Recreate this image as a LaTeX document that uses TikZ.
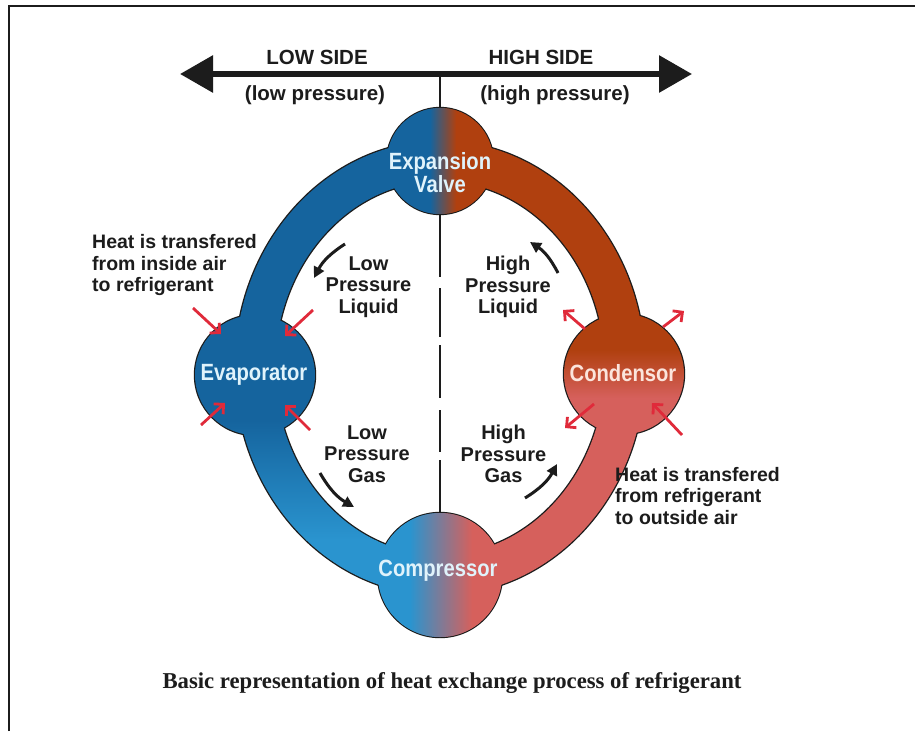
\documentclass[tikz,border=0pt]{standalone}
\usepackage{fontspec}
\setmainfont{Liberation Sans}
\newfontfamily\partfont{Liberation Sans}[FakeStretch=0.86]
\newfontfamily\captionfont{Liberation Serif}
\usetikzlibrary{arrows.meta}

\definecolor{bluedark}{HTML}{15649E}
\definecolor{bluelight}{HTML}{2A94CF}
\definecolor{brownred}{HTML}{B0400F}
\definecolor{salmon}{HTML}{D6605C}
\definecolor{heatred}{HTML}{E02A3A}
\definecolor{ink}{HTML}{1C1C1C}
\definecolor{coolwhite}{HTML}{E0F3FB}
\definecolor{warmwhite}{HTML}{FBE4DC}

% colour bands of the low side (left) and high side (right)
\newcommand\paintlow{%
  \fill[bluedark] (0,0) rectangle (440,420);
  \shade[top color=bluedark, bottom color=bluelight] (0,420) rectangle (440,540);
  \fill[bluelight] (0,540) rectangle (440,731);}
\newcommand\painthigh{%
  \fill[brownred] (440,0) rectangle (915,350);
  \shade[top color=brownred, bottom color=salmon] (440,350) rectangle (915,398);
  \fill[salmon] (440,398) rectangle (915,731);}

\begin{document}
\begin{tikzpicture}[x=1pt, y=-1pt,
  sidelabel/.style={font=\bfseries\fontsize{20.5}{22}\selectfont, text=ink, inner sep=0pt},
  flowlabel/.style={font=\bfseries\fontsize{20}{21.5}\selectfont, text=ink, align=center, inner sep=0pt},
  heatlabel/.style={font=\bfseries\fontsize{19.5}{21.5}\selectfont, text=ink, align=left, inner sep=0pt, anchor=west},
  partlabel/.style={font=\partfont\bfseries\fontsize{23.5}{20}\selectfont, align=center, inner sep=0pt},
  part/.style={circle, inner sep=0pt, minimum size=#1},
  flowarrow/.style={draw=ink, line width=3pt, -{Triangle[length=11pt, width=11pt]}},
  heatarrow/.style={draw=heatred, line width=2.8pt, -{Straight Barb[length=7pt, width=14pt]}},
  divider/.style={draw=ink, line width=2pt},
]
\useasboundingbox (0,0) rectangle (915,731);
\fill[white] (0,0) rectangle (915,731);

% frame
\draw[ink, line width=2pt] (9,731) -- (9,5.5) -- (915,5.5);

% components of the loop
\node[part=106pt] (valve) at (440,161) {};
\node[part=120pt] (evap) at (255,375) {};
\node[part=120pt] (cond) at (624,374) {};
\node[part=124pt] (comp) at (440,575) {};
\coordinate (loop) at (440,368);

% outline of the whole loop
\draw[ink, line width=42.6pt] (loop) ellipse [x radius=185pt, y radius=207pt];
\foreach \p/\r in {valve/54.2, evap/61.2, cond/61.2, comp/63.2}
  \fill[ink] (\p) circle [radius=\r pt];

% low side
\begin{scope}
  \clip (0,0) rectangle (440,731);
  \begin{scope}[even odd rule]
    \clip (loop) ellipse [x radius=205pt, y radius=227pt]
          (loop) ellipse [x radius=165pt, y radius=187pt];
    \paintlow
  \end{scope}
  \begin{scope}
    \clip (evap) circle [radius=60pt] (valve) circle [radius=53pt] (comp) circle [radius=62pt];
    \paintlow
  \end{scope}
\end{scope}

% high side
\begin{scope}
  \clip (440,0) rectangle (915,731);
  \begin{scope}[even odd rule]
    \clip (loop) ellipse [x radius=205pt, y radius=227pt]
          (loop) ellipse [x radius=165pt, y radius=187pt];
    \painthigh
  \end{scope}
  \begin{scope}
    \clip (cond) circle [radius=60pt] (valve) circle [radius=53pt] (comp) circle [radius=62pt];
    \painthigh
  \end{scope}
\end{scope}

% blended valve and compressor
\begin{scope}
  \clip (valve) circle [radius=53pt];
  \fill[bluedark] (380,100) rectangle (430,220);
  \shade[left color=bluedark, right color=brownred] (430,100) rectangle (456,220);
  \fill[brownred] (456,100) rectangle (500,220);
\end{scope}
\begin{scope}
  \clip (comp) circle [radius=62pt];
  \fill[bluelight] (370,505) rectangle (410,645);
  \shade[left color=bluelight, right color=salmon] (410,505) rectangle (472,645);
  \fill[salmon] (472,505) rectangle (515,645);
\end{scope}

% pressure axis and divider
\coordinate (lowtip) at (180,74);
\coordinate (hightip) at (692,74);
\coordinate (axis) at (440,74);
\draw[ink, line width=6pt, {Triangle[length=33pt,width=36pt]}-{Triangle[length=33pt,width=36pt]}] (lowtip) -- (hightip);
\draw[divider] (axis) -- (valve.north);
\draw[divider, dash pattern=on 63pt off 11pt on 49pt off 8pt on 53pt off 12pt on 42pt off 8pt on 80pt] (valve.south) -- (comp.north);

% side labels
\node[sidelabel] (lowside) at (317,57) {LOW SIDE};
\node[sidelabel] (highside) at (541,57) {HIGH SIDE};
\node[sidelabel] (lowp) at (315,95) {(low pressure)};
\node[sidelabel] (highp) at (555,95) {(high pressure)};

% component labels
\node[partlabel, text=coolwhite] (valvetext) at (440,173) {Expansion\\Valve};
\node[partlabel, text=coolwhite] (evaptext) at (254,375) {Evaporator};
\node[partlabel, text=warmwhite] (condtext) at (623,373) {Condensor};
\node[partlabel, text=coolwhite] (comptext) at (438,571) {Compressor};

% heat transfer notes
\node[heatlabel] (heatin) at (92,265) {Heat is transfered\\from inside air\\to refrigerant};
\node[heatlabel] (heatout) at (615,496) {Heat is transfered\\from refrigerant\\to outside air};

% refrigerant state labels
\node[flowlabel] (lpl) at (368.5,287) {Low\\Pressure\\Liquid};
\node[flowlabel] (hpl) at (508,287) {High\\Pressure\\Liquid};
\node[flowlabel] (lpg) at (367,454) {Low\\Pressure\\Gas};
\node[flowlabel] (hpg) at (503.5,454) {High\\Pressure\\Gas};

% flow direction arrows
\coordinate (lplA) at (345,244); \coordinate (lplB) at (314,278);
\coordinate (hplA) at (558,273); \coordinate (hplB) at (530,242);
\coordinate (lpgA) at (320,473); \coordinate (lpgB) at (354,507);
\coordinate (hpgA) at (525,498); \coordinate (hpgB) at (557,464);
\draw[flowarrow] (lplA) to[bend right=15] (lplB);
\draw[flowarrow] (hplA) to[bend right=15] (hplB);
\draw[flowarrow] (lpgA) to[bend right=15] (lpgB);
\draw[flowarrow] (hpgA) to[bend right=15] (hpgB);

% heat arrows: into the evaporator
\coordinate (e1a) at (193,308); \coordinate (e1b) at (221,334);
\coordinate (e2a) at (313,310); \coordinate (e2b) at (285,336);
\coordinate (e3a) at (201,425); \coordinate (e3b) at (225,403);
\coordinate (e4a) at (310,430); \coordinate (e4b) at (285,405);
\foreach \n in {1,2,3,4} \draw[heatarrow] (e\n a) -- (e\n b);

% heat arrows: at the condensor
\coordinate (c1a) at (585,329); \coordinate (c1b) at (563,310);
\coordinate (c2a) at (663,327); \coordinate (c2b) at (684,311);
\coordinate (c3a) at (594,404); \coordinate (c3b) at (565,428);
\coordinate (c4a) at (682,435); \coordinate (c4b) at (652,403);
\foreach \n in {1,2,3,4} \draw[heatarrow] (c\n a) -- (c\n b);

% caption
\node[font=\captionfont\bfseries\fontsize{22.7}{25}\selectfont, text=ink, inner sep=0pt] (caption) at (452,683)
  {Basic representation of heat exchange process of refrigerant};
\end{tikzpicture}
\end{document}
